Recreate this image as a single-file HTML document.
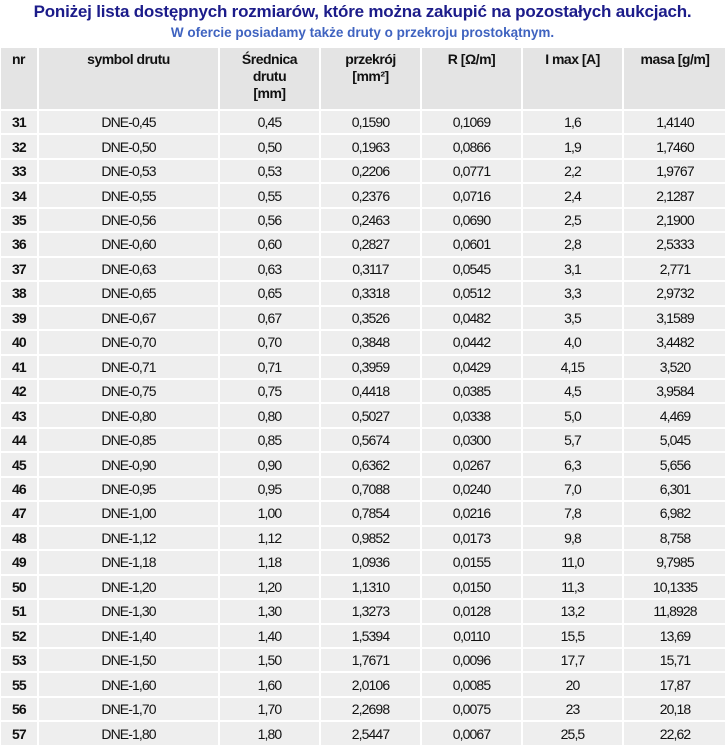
<!DOCTYPE html>
<html><head><meta charset="utf-8"><style>
body{margin:0;background:#fff;width:725px;height:746px;overflow:hidden;font-family:"Liberation Sans",Arial,sans-serif}
.t1{position:absolute;left:0;width:725px;text-align:center;font-weight:bold;font-size:17px;color:#1c1c8a;line-height:22px;top:1px;letter-spacing:-0.2px}
.t2{position:absolute;left:0;width:725px;text-align:center;font-weight:bold;font-size:13.5px;color:#3f63c0;top:24px;line-height:18px}
table{position:absolute;top:46px;left:-1px;border-collapse:collapse;table-layout:fixed;width:727px}
td{border:2px solid #fff;background:#eeeeee;font-size:14px;letter-spacing:-0.9px;color:#111;text-align:center;height:22.46px;padding:0;line-height:18px}
tr.h td{background:#e4e4e4;font-weight:bold;vertical-align:top;height:58px;padding-top:3px;line-height:17px;letter-spacing:-0.5px}
td.n{font-weight:bold;text-align:left;padding-left:11px}
</style></head><body>
<div class="t1">Poniżej lista dostępnych rozmiarów, które można zakupić na pozostałych aukcjach.</div>
<div class="t2">W ofercie posiadamy także druty o przekroju prostokątnym.</div>
<table>
<colgroup><col style="width:38px"><col style="width:181px"><col style="width:101px"><col style="width:101px"><col style="width:101px"><col style="width:101px"><col style="width:104px"></colgroup>
<tr class="h"><td class="n" style="padding-left:11px">nr</td><td>symbol drutu</td><td>Średnica<br>drutu<br>[mm]</td><td>przekrój<br>[mm²]</td><td>R [Ω/m]</td><td>I max [A]</td><td>masa [g/m]</td></tr>
<tr><td class="n">31</td><td>DNE-0,45</td><td>0,45</td><td>0,1590</td><td>0,1069</td><td>1,6</td><td>1,4140</td></tr>
<tr><td class="n">32</td><td>DNE-0,50</td><td>0,50</td><td>0,1963</td><td>0,0866</td><td>1,9</td><td>1,7460</td></tr>
<tr><td class="n">33</td><td>DNE-0,53</td><td>0,53</td><td>0,2206</td><td>0,0771</td><td>2,2</td><td>1,9767</td></tr>
<tr><td class="n">34</td><td>DNE-0,55</td><td>0,55</td><td>0,2376</td><td>0,0716</td><td>2,4</td><td>2,1287</td></tr>
<tr><td class="n">35</td><td>DNE-0,56</td><td>0,56</td><td>0,2463</td><td>0,0690</td><td>2,5</td><td>2,1900</td></tr>
<tr><td class="n">36</td><td>DNE-0,60</td><td>0,60</td><td>0,2827</td><td>0,0601</td><td>2,8</td><td>2,5333</td></tr>
<tr><td class="n">37</td><td>DNE-0,63</td><td>0,63</td><td>0,3117</td><td>0,0545</td><td>3,1</td><td>2,771</td></tr>
<tr><td class="n">38</td><td>DNE-0,65</td><td>0,65</td><td>0,3318</td><td>0,0512</td><td>3,3</td><td>2,9732</td></tr>
<tr><td class="n">39</td><td>DNE-0,67</td><td>0,67</td><td>0,3526</td><td>0,0482</td><td>3,5</td><td>3,1589</td></tr>
<tr><td class="n">40</td><td>DNE-0,70</td><td>0,70</td><td>0,3848</td><td>0,0442</td><td>4,0</td><td>3,4482</td></tr>
<tr><td class="n">41</td><td>DNE-0,71</td><td>0,71</td><td>0,3959</td><td>0,0429</td><td>4,15</td><td>3,520</td></tr>
<tr><td class="n">42</td><td>DNE-0,75</td><td>0,75</td><td>0,4418</td><td>0,0385</td><td>4,5</td><td>3,9584</td></tr>
<tr><td class="n">43</td><td>DNE-0,80</td><td>0,80</td><td>0,5027</td><td>0,0338</td><td>5,0</td><td>4,469</td></tr>
<tr><td class="n">44</td><td>DNE-0,85</td><td>0,85</td><td>0,5674</td><td>0,0300</td><td>5,7</td><td>5,045</td></tr>
<tr><td class="n">45</td><td>DNE-0,90</td><td>0,90</td><td>0,6362</td><td>0,0267</td><td>6,3</td><td>5,656</td></tr>
<tr><td class="n">46</td><td>DNE-0,95</td><td>0,95</td><td>0,7088</td><td>0,0240</td><td>7,0</td><td>6,301</td></tr>
<tr><td class="n">47</td><td>DNE-1,00</td><td>1,00</td><td>0,7854</td><td>0,0216</td><td>7,8</td><td>6,982</td></tr>
<tr><td class="n">48</td><td>DNE-1,12</td><td>1,12</td><td>0,9852</td><td>0,0173</td><td>9,8</td><td>8,758</td></tr>
<tr><td class="n">49</td><td>DNE-1,18</td><td>1,18</td><td>1,0936</td><td>0,0155</td><td>11,0</td><td>9,7985</td></tr>
<tr><td class="n">50</td><td>DNE-1,20</td><td>1,20</td><td>1,1310</td><td>0,0150</td><td>11,3</td><td>10,1335</td></tr>
<tr><td class="n">51</td><td>DNE-1,30</td><td>1,30</td><td>1,3273</td><td>0,0128</td><td>13,2</td><td>11,8928</td></tr>
<tr><td class="n">52</td><td>DNE-1,40</td><td>1,40</td><td>1,5394</td><td>0,0110</td><td>15,5</td><td>13,69</td></tr>
<tr><td class="n">53</td><td>DNE-1,50</td><td>1,50</td><td>1,7671</td><td>0,0096</td><td>17,7</td><td>15,71</td></tr>
<tr><td class="n">55</td><td>DNE-1,60</td><td>1,60</td><td>2,0106</td><td>0,0085</td><td>20</td><td>17,87</td></tr>
<tr><td class="n">56</td><td>DNE-1,70</td><td>1,70</td><td>2,2698</td><td>0,0075</td><td>23</td><td>20,18</td></tr>
<tr><td class="n">57</td><td>DNE-1,80</td><td>1,80</td><td>2,5447</td><td>0,0067</td><td>25,5</td><td>22,62</td></tr>
</table>
</body></html>
